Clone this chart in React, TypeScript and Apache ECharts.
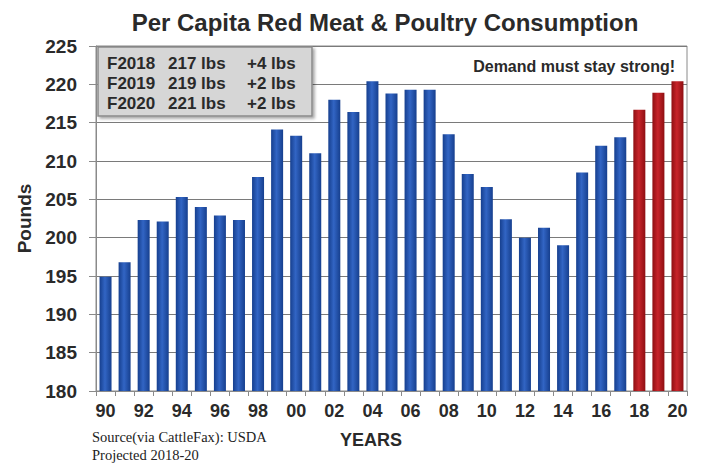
import React, { useEffect, useRef } from "react";
import * as echarts from "echarts";

const years = [
  "90", "91", "92", "93", "94", "95", "96", "97", "98", "99",
  "00", "01", "02", "03", "04", "05", "06", "07", "08", "09",
  "10", "11", "12", "13", "14", "15", "16", "17", "18", "19", "20",
];
const pounds = [
  194.9, 196.8, 202.3, 202.1, 205.3, 204.0, 202.9, 202.3, 207.9, 214.1,
  213.3, 211.0, 218.0, 216.4, 220.4, 218.8, 219.3, 219.3, 213.5, 208.3,
  206.6, 202.4, 200.0, 201.3, 199.0, 208.5, 212.0, 213.1, 216.7, 218.9, 220.4,
];
const projectedFrom = "18";
const legendRows = [
  ["F2018", "217 lbs", "+4 lbs"],
  ["F2019", "219 lbs", "+2 lbs"],
  ["F2020", "221 lbs", "+2 lbs"],
];
const titleText = "Per Capita Red Meat & Poultry Consumption";
const noteText = "Demand must stay strong!";
const sourceLines = ["Source(via CattleFax): USDA", "Projected 2018-20"];

const FONT = "'Liberation Sans', Arial, sans-serif";

function grad(edge: string, mid: string) {
  return new echarts.graphic.LinearGradient(0, 0, 1, 0, [
    { offset: 0, color: edge },
    { offset: 0.45, color: mid },
    { offset: 1, color: edge },
  ]);
}

export default function App() {
  const ref = useRef<HTMLDivElement>(null);
  useEffect(() => {
    if (!ref.current) return;
    const chart = echarts.init(ref.current, null, { renderer: "svg" });
    const projIdx = years.indexOf(projectedFrom);
    const data = pounds.map((v, i) => ({
      value: v,
      itemStyle: {
        color: i >= projIdx ? grad("#8e0f12", "#c8242a") : grad("#163f8e", "#3265c4"),
      },
    }));
    const colX = [107, 168, 247];
    const legendTexts: any[] = [];
    legendRows.forEach((row, r) => {
      row.forEach((t, c) => {
        legendTexts.push({
          type: "text",
          x: colX[c],
          y: 63 + r * 20,
          style: {
            text: t,
            font: `bold 17px ${FONT}`,
            fill: "#2a2a2a",
            textVerticalAlign: "middle",
          },
        });
      });
    });
    chart.setOption({
      animation: false,
      backgroundColor: "#ffffff",
      title: {
        text: titleText,
        left: 380,
        textAlign: "center",
        top: 5,
        textStyle: { fontFamily: FONT, fontWeight: "bold", fontSize: 24, color: "#2a2a2a" },
      },
      grid: {
        left: 96,
        right: 27,
        top: 46,
        bottom: 74,
        show: true,
        borderColor: "#8a8a8a",
        borderWidth: 1,
        backgroundColor: "transparent",
      },
      xAxis: {
        type: "category",
        data: years,
        axisLine: { lineStyle: { color: "#8a8a8a", width: 1 } },
        axisTick: { show: true, length: 5, interval: 0, lineStyle: { color: "#8a8a8a" } },
        axisLabel: {
          interval: 1,
          margin: 11,
          fontFamily: FONT,
          fontWeight: "bold",
          fontSize: 18,
          color: "#2a2a2a",
        },
      },
      yAxis: {
        type: "value",
        min: 180,
        max: 225,
        interval: 5,
        name: "Pounds",
        nameLocation: "middle",
        nameRotate: 90,
        nameGap: 62,
        nameTextStyle: { fontFamily: FONT, fontWeight: "bold", fontSize: 19, color: "#2a2a2a" },
        axisLine: { show: true, lineStyle: { color: "#8a8a8a", width: 1 } },
        axisTick: { show: true, length: 7, lineStyle: { color: "#8a8a8a" } },
        axisLabel: {
          margin: 19,
          fontFamily: FONT,
          fontWeight: "bold",
          fontSize: 19,
          color: "#2a2a2a",
        },
        splitLine: { lineStyle: { color: "#7a7a7a", width: 1.2 } },
      },
      series: [
        {
          type: "bar",
          data,
          barWidth: 12,
        },
      ],
      graphic: [
        {
          type: "rect",
          shape: { x: 98, y: 47, width: 214, height: 69 },
          style: {
            fill: "#d6d6d6",
            stroke: "#8a8a8a",
            lineWidth: 1.5,
            shadowBlur: 3,
            shadowOffsetX: 2,
            shadowOffsetY: 2,
            shadowColor: "rgba(0,0,0,0.35)",
          },
          z: 10,
        },
        ...legendTexts.map((t) => ({ ...t, z: 11 })),
        {
          type: "text",
          x: 675,
          y: 66,
          style: {
            text: noteText,
            font: `bold 16px ${FONT}`,
            fill: "#2a2a2a",
            textAlign: "right",
            textVerticalAlign: "middle",
          },
          z: 10,
        },
        {
          type: "text",
          x: 371,
          y: 440,
          style: {
            text: "YEARS",
            font: `bold 18px ${FONT}`,
            fill: "#2a2a2a",
            textAlign: "center",
            textVerticalAlign: "middle",
          },
        },
        {
          type: "text",
          x: 92,
          y: 437,
          style: {
            text: sourceLines[0],
            font: "14.5px 'Liberation Serif', 'Times New Roman', serif",
            fill: "#222",
            textVerticalAlign: "middle",
          },
        },
        {
          type: "text",
          x: 92,
          y: 455,
          style: {
            text: sourceLines[1],
            font: "14.5px 'Liberation Serif', 'Times New Roman', serif",
            fill: "#222",
            textVerticalAlign: "middle",
          },
        },
      ],
    });
    return () => chart.dispose();
  }, []);
  return (
    <div
      ref={ref}
      style={{ position: "fixed", left: 0, top: 0, width: 714, height: 465, background: "#fff" }}
    />
  );
}
